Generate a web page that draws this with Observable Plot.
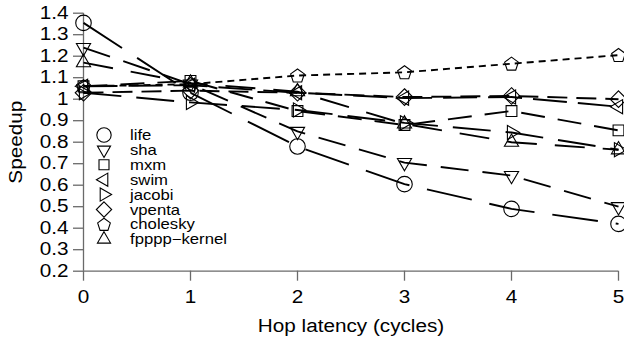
<!DOCTYPE html>
<html><head><meta charset="utf-8">
<script src="https://cdn.jsdelivr.net/npm/d3@7"></script>
<script src="https://cdn.jsdelivr.net/npm/@observablehq/plot@0.6"></script>
<style>body{margin:0;background:#fff;} #chart{width:624px;height:339px;overflow:hidden;position:relative}</style>
</head><body><div id="chart"></div>
<script>
// ---- data ----
const hops = [0, 1, 2, 3, 4, 5];
const seriesNames = ["life", "sha", "mxm", "swim", "jacobi", "vpenta", "cholesky", "fpppp\u2212kernel"];
const life     = [1.355, 1.03, 0.78, 0.605, 0.49, 0.42];
const sha      = [1.24, 1.07, 0.85, 0.705, 0.645, 0.50];
const mxm      = [1.06, 1.085, 0.945, 0.88, 0.945, 0.855];
const swim     = [1.06, 1.065, 1.03, 1.005, 1.01, 0.965];
const jacobi   = [1.03, 0.985, 0.95, 0.89, 0.845, 0.765];
const vpenta   = [1.03, 1.04, 1.03, 1.01, 1.015, 1.00];
const cholesky = [1.06, 1.07, 1.11, 1.125, 1.165, 1.205];
const fpppp    = [1.17, 1.075, 1.035, 0.885, 0.80, 0.765];
const seriesValues = [life, sha, mxm, swim, jacobi, vpenta, cholesky, fpppp];
const yTicks = [0.2, 0.3, 0.4, 0.5, 0.6, 0.7, 0.8, 0.9, 1.0, 1.1, 1.2, 1.3, 1.4];
const yTickLabels = ["0.2", "0.3", "0.4", "0.5", "0.6", "0.7", "0.8", "0.9", "1", "1.1", "1.2", "1.3", "1.4"];
const xTicks = [0, 1, 2, 3, 4, 5];
const xTickLabels = ["0", "1", "2", "3", "4", "5"];
const xLabel = "Hop latency (cycles)";
const yLabel = "Speedup";

// ---- styles ----
const dashes = ["46,18", "28,14", "24,13", "34,11", "38,15", "20,9", "7,5", "30,18"];
function poly(pts) {
  return {draw(ctx, size) {
    const s = Math.sqrt(size / Math.PI) / 8;
    ctx.moveTo(pts[0][0] * s, pts[0][1] * s);
    for (let i = 1; i < pts.length; i++) ctx.lineTo(pts[i][0] * s, pts[i][1] * s);
    ctx.closePath();
  }};
}
const circleSym = {draw(ctx, size) { const r = Math.sqrt(size / Math.PI) * 0.97; ctx.moveTo(r, 0); ctx.arc(0, 0, r, 0, 2 * Math.PI); }};
const triUp = poly([[0, -8.2], [7.1, 4.1], [-7.1, 4.1]]);
const triDown = poly([[0, 8.2], [7.1, -4.1], [-7.1, -4.1]]);
const triLeft = poly([[-8.2, 0], [4.1, -7.1], [4.1, 7.1]]);
const triRight = poly([[8.2, 0], [-4.1, -7.1], [-4.1, 7.1]]);
const squareSym = poly([[-5.4, -5.4], [5.4, -5.4], [5.4, 5.4], [-5.4, 5.4]]);
const diamondSym = poly([[0, -8.3], [8.3, 0], [0, 8.3], [-8.3, 0]]);
const pentPts = d3.range(5).map(k => { const a = (-90 + 72 * k) * Math.PI / 180; return [7.2 * Math.cos(a), 7.2 * Math.sin(a) + 0.6]; });
const pentSym = poly(pentPts);
const symbols = [circleSym, triDown, squareSym, triLeft, triRight, diamondSym, pentSym, triUp];

const rows = [];
seriesNames.forEach((name, i) => hops.forEach((h, j) => rows.push({series: name, x: h, y: seriesValues[i][j]})));

const axisColor = "#6a6a6a";
const marks = [
  Plot.ruleX([xTicks[0]], {y1: yTicks[0], y2: yTicks[yTicks.length - 1], stroke: axisColor, strokeWidth: 1.3}),
  Plot.ruleY([yTicks[0]], {x1: xTicks[0], x2: xTicks[xTicks.length - 1], stroke: axisColor, strokeWidth: 1.3}),
  Plot.axisY(yTicks, {tickSize: 10, tickPadding: 5, stroke: axisColor, strokeWidth: 1.3, fill: "black", fontSize: 18,
    tickFormat: (d, i) => yTickLabels[i], label: yLabel, labelAnchor: "center", labelArrow: "none", labelOffset: 74}),
  Plot.axisX(xTicks, {tickSize: 10, tickPadding: 9, stroke: axisColor, strokeWidth: 1.3, fill: "black", fontSize: 18,
    tickFormat: (d, i) => xTickLabels[i], label: xLabel, labelAnchor: "center", labelArrow: "none", labelOffset: 61})
];
seriesNames.forEach((name, i) => {
  marks.push(Plot.line(rows.filter(d => d.series === name), {x: "x", y: "y", stroke: "black", strokeWidth: 1.9,
    strokeDasharray: dashes[i], strokeLinecap: "butt"}));
});
seriesNames.forEach((name, i) => {
  marks.push(Plot.dot(rows.filter(d => d.series === name), {x: "x", y: "y", symbol: symbols[i], r: 8,
    stroke: "black", strokeWidth: 1.1, fill: "none"}));
});

const chart = Plot.plot({
  width: 624, height: 339,
  marginLeft: 83, marginRight: 6, marginTop: 12.7, marginBottom: 68.3,
  x: {domain: [xTicks[0], xTicks[xTicks.length - 1]]},
  y: {domain: [yTicks[0], yTicks[yTicks.length - 1]]},
  style: {fontFamily: "'Liberation Sans', Arial, sans-serif", background: "white", overflow: "visible"},
  marks
});
document.getElementById("chart").appendChild(chart);

// ---- legend (inside plot, top-left) ----
const svg = d3.select(chart);
const leg = svg.append("g").attr("font-family", "'Liberation Sans', Arial, sans-serif").attr("font-size", 14.5)
  .attr("text-anchor", "start").attr("fill", "black");
seriesNames.forEach((name, i) => {
  const cy = 135 + i * 14.9;
  leg.append("path").attr("d", d3.symbol(symbols[i], Math.PI * 7.4 * 7.4)()).attr("transform", `translate(104,${cy})`)
    .attr("fill", "none").attr("stroke", "black").attr("stroke-width", 1.1);
  leg.append("text").attr("x", 130).attr("y", cy).attr("dy", "0.35em").attr("text-anchor", "start").text(name);
});

// ---- widen text horizontally to match reference font metrics ----
const k = 1.15;
chart.querySelectorAll("text").forEach(t => {
  const len = t.getComputedTextLength();
  if (len > 0) { t.setAttribute("textLength", len * k); t.setAttribute("lengthAdjust", "spacingAndGlyphs"); }
});
</script>
</body></html>
